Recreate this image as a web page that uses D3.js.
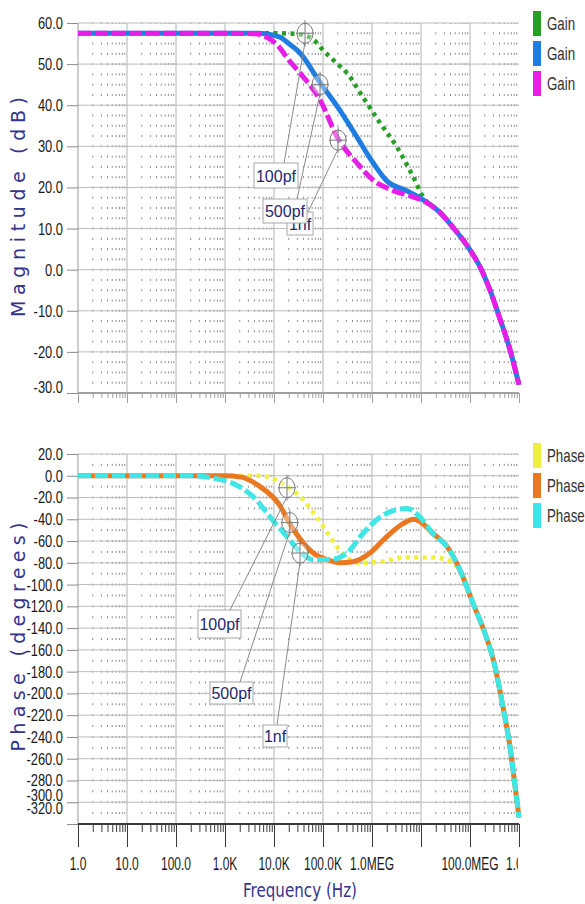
<!DOCTYPE html>
<meta charset="utf-8">
<script src="https://d3js.org/d3.v7.min.js"></script>
<style>
    body { margin: 0; background: #fff; }
</style>
<div id="vis"></div>
<script>
    // frequency decades + their labels (10MEG label is not shown in the original)
    var decades = [1, 10, 100, 1e3, 1e4, 1e5, 1e6, 1e7, 1e8, 1e9];
    var decadeLabels = ["1.0", "10.0", "100.0", "1.0K", "10.0K", "100.0K", "1.0MEG", "", "100.0MEG", "1.0G"];
    var gainTicks = [-30, -20, -10, 0, 10, 20, 30, 40, 50, 60];
    var phaseTicks = [-320, -300, -280, -260, -240, -220, -200, -180, -160, -140, -120, -100, -80, -60, -40, -20, 0, 20];
    var seriesNames = ["100pf", "500pf", "1nf"];

    // gain curves [Hz, dB]
    var gain100 = [[1, 57.5], [1e3, 57.5], [1e4, 57.5], [25e3, 57.4], [43e3, 57.0], [70e3, 55.5], [1e5, 53.4],
        [2e5, 50.0], [3.1e5, 47.8], [6.5e5, 42.0], [1.46e6, 35.7], [3.2e6, 29.9], [6.9e6, 22.6], [1.1e7, 17.7],
        [2.4e7, 14.0], [4.5e7, 10.3], [1e8, 4.8], [1.6e8, 0.7], [2.56e8, -5], [4.1e8, -12.0], [6.6e8, -19.6], [1e9, -28]];
    var gain500 = [[1, 57.5], [1e3, 57.5], [5e3, 57.5], [7.2e3, 57.3], [13e3, 56.6], [2e4, 55.0], [3.4e4, 52.7],
        [8.7e4, 45.5], [2.2e5, 38.8], [4.9e5, 32.3], [1.05e6, 26.0], [2e6, 21.6], [5.1e6, 19.2], [1.1e7, 17.0],
        [2.4e7, 14.0], [4.5e7, 10.3], [1e8, 4.8], [1.6e8, 0.7], [2.56e8, -5], [4.1e8, -12.0], [6.6e8, -19.6], [1e9, -28]];
    var gain1n = [[1, 57.5], [1e3, 57.5], [4e3, 57.4], [7e3, 56.6], [12e3, 54.5], [2e4, 51.0], [3.4e4, 47.8],
        [8.7e4, 41.3], [2e5, 32.0], [4.9e5, 26.0], [1.05e6, 21.8], [2.5e6, 19.4], [6.9e6, 17.7], [1.1e7, 16.8],
        [2.4e7, 14.0], [4.5e7, 10.3], [1e8, 4.8], [1.6e8, 0.7], [2.56e8, -5], [4.1e8, -12.0], [6.6e8, -19.6], [1e9, -28]];

    // phase curves [Hz, deg]
    var phase100 = [[1, 0], [1e3, 0], [5e3, 0], [1e4, -3], [1.84e4, -10], [3.4e4, -19], [7.5e4, -38], [1.39e5, -56],
        [2.45e5, -71], [5.7e5, -80], [1.46e6, -79], [5.2e6, -75], [1.5e7, -75], [3.4e7, -77], [5e7, -82], [6.3e7, -87],
        [1.15e8, -117], [2.22e8, -150], [2.95e8, -168], [4.7e8, -212], [6.6e8, -250], [8.3e8, -285], [1e9, -314]];
    var phase500 = [[1, 0], [1e3, 0], [2e3, -1], [5.2e3, -10], [1.3e4, -27], [2.1e4, -44], [3.4e4, -58], [6.3e4, -71],
        [1.2e5, -77], [2.2e5, -80], [4.1e5, -79], [9.1e5, -71], [2e6, -56], [4.3e6, -44], [7e6, -40], [9.5e6, -42],
        [1.75e7, -53], [3.4e7, -65], [6.3e7, -87],
        [1.15e8, -117], [2.22e8, -150], [2.95e8, -168], [4.7e8, -212], [6.6e8, -250], [8.3e8, -285], [1e9, -314]];
    var phase1n = [[1, 0], [200, 0], [700, -3], [1.45e3, -7], [3.7e3, -19], [9.5e3, -41], [2.1e4, -59], [3.4e4, -70],
        [6.3e4, -77], [1.39e5, -77], [3.09e5, -71], [6.55e5, -53], [1.46e6, -38], [2.7e6, -32], [5.2e6, -30],
        [9.5e6, -38], [1.75e7, -53], [3.4e7, -65], [6.3e7, -87],
        [1.15e8, -117], [2.22e8, -150], [2.95e8, -168], [4.7e8, -212], [6.6e8, -250], [8.3e8, -285], [1e9, -314]];

    // cursor markers [Hz, value]
    var gainMarks = [[4.3e4, 57.5], [8.7e4, 45.0], [2.03e5, 31.5]];
    var phaseMarks = [[1.84e4, -11], [2.1e4, -43], [3.4e4, -71]];

    var svg = d3.select("#vis").append("svg")
        .attr("width", 585)
        .attr("height", 904);

    var x = d3.scaleLog().domain([1, 1e9]).range([78, 519]);
    var yG = d3.scaleLinear().domain([-30, 60]).range([393, 23]);
    var yP = d3.scaleLinear().domain([-320, 20]).range([824, 454]);

    var minorX = [];
    decades.slice(0, -1).forEach(function (d) { for (var k = 2; k < 10; k++) minorX.push(d * k); });

    var numFont = "'Liberation Sans', Arial, sans-serif";

    // grid + axes for one panel
    function panel(y, ticks, minorStep, majLen, minLen, axisClr, nudge) {
        var yb = y.range()[0], yt = y.range()[1];
        var g = svg.append("g");
        var stepPx = Math.abs(y(0) - y(minorStep));

        // dotted minor grid
        g.selectAll(null).data(minorX).enter().append("line")
            .attr("x1", function (d) { return x(d); }).attr("x2", function (d) { return x(d); })
            .attr("y1", yt).attr("y2", yb)
            .attr("stroke", "#8c8c8c")
            .attr("stroke-dasharray", "2," + (stepPx - 2))
            .attr("stroke-dashoffset", 1);
        // major grid
        g.selectAll(null).data(ticks).enter().append("line")
            .attr("x1", 78).attr("x2", 519)
            .attr("y1", function (d) { return y(d); }).attr("y2", function (d) { return y(d); })
            .attr("stroke", "#bcbcbc");
        g.selectAll(null).data(decades.slice(1, -1)).enter().append("line")
            .attr("x1", function (d) { return x(d); }).attr("x2", function (d) { return x(d); })
            .attr("y1", yt).attr("y2", yb)
            .attr("stroke", "#b4b4b4");

        // y axis
        var ya = svg.append("g").attr("transform", "translate(78,0)")
            .call(d3.axisLeft(y).tickValues(ticks).tickSize(11)
                .tickFormat(function (d) { return d.toFixed(1); }));
        ya.select(".domain").remove();
        ya.attr("color", "#8a8a8a").attr("font-family", numFont).attr("font-size", 17);
        ya.selectAll("text")
            .attr("fill", "#1a1a1a")
            .attr("transform", "scale(0.76,1)")
            .attr("x", -15 / 0.76)
            .attr("y", function (d) { return nudge[d] || 0; });

        // x ticks
        var xm = svg.append("g").attr("transform", "translate(0," + yb + ")")
            .call(d3.axisBottom(x).tickValues(minorX).tickSize(minLen).tickFormat(""));
        xm.select(".domain").remove();
        xm.attr("color", axisClr);
        var xa = svg.append("g").attr("transform", "translate(0," + yb + ")")
            .call(d3.axisBottom(x).tickValues(decades).tickSize(majLen).tickFormat(""));
        xa.select(".domain").remove();
        xa.attr("color", axisClr);

        // axis lines
        svg.append("line").attr("x1", 78).attr("x2", 78).attr("y1", yt).attr("y2", yb)
            .attr("stroke", "#9a9a9a");
        svg.append("line").attr("x1", 78).attr("x2", 519).attr("y1", yb).attr("y2", yb)
            .attr("stroke", axisClr).attr("stroke-width", 2);
        return xa;
    }

    panel(yG, gainTicks, 2.5, 10, 5, "#a0a0a0", { "-30": -6 });
    panel(yP, phaseTicks, 10, 23, 8, "#3a3a3a", { "-300": -7, "-320": -16 });

    // frequency labels, the last one is cut at the plot edge
    svg.append("clipPath").attr("id", "cutR")
        .append("rect").attr("x", -100).attr("y", -50).attr("width", 618).attr("height", 150);
    var xl = svg.append("g").attr("transform", "translate(0,824)")
        .attr("clip-path", "url(#cutR)")
        .attr("font-family", numFont).attr("font-size", 19).attr("text-anchor", "middle");
    xl.selectAll(null).data(decades).enter().append("text")
        .attr("transform", function (d) { return "translate(" + x(d) + ",0) scale(0.63,1)"; })
        .attr("y", 46)
        .attr("fill", "#1a1a1a")
        .text(function (d, i) { return decadeLabels[i]; });

    // curves
    function curve(y) {
        return d3.line()
            .x(function (d) { return x(d[0]); })
            .y(function (d) { return y(d[1]); })
            .curve(d3.curveMonotoneX);
    }
    var gainSeries = [
        { data: gain100, clr: "#25a025", w: 4.5, dash: "4,4.5" },
        { data: gain500, clr: "#1f7de2", w: 5, dash: null },
        { data: gain1n, clr: "#e61ee6", w: 5, dash: "13,4" }
    ];
    var phaseSeries = [
        { data: phase100, clr: "#f0f03c", w: 4.5, dash: "4,4.5" },
        { data: phase500, clr: "#ea7820", w: 5, dash: null },
        { data: phase1n, clr: "#3ee6e6", w: 5, dash: "13,4" }
    ];
    function drawSeries(list, y) {
        list.forEach(function (s) {
            svg.append("path")
                .attr("d", curve(y)(s.data))
                .attr("fill", "none")
                .attr("stroke", s.clr)
                .attr("stroke-width", s.w)
                .attr("stroke-dasharray", s.dash);
        });
    }
    drawSeries(gainSeries, yG);
    drawSeries(phaseSeries, yP);

    // cursor labels with leader lines
    function tags(marks, y, boxes) {
        boxes.forEach(function (b, i) {
            var m = marks[i];
            svg.append("line")
                .attr("x1", b.lx).attr("y1", b.ly)
                .attr("x2", x(m[0])).attr("y2", y(m[1]) + 9)
                .attr("stroke", "#8a8a8a");
        });
        marks.forEach(function (m) {
            var g = svg.append("g").attr("transform", "translate(" + x(m[0]) + "," + y(m[1]) + ")");
            g.append("ellipse").attr("rx", 8).attr("ry", 10)
                .attr("fill", "#fff").attr("fill-opacity", 0.35).attr("stroke", "#7a7a7a");
            g.append("line").attr("x1", 0).attr("x2", 0).attr("y1", -13).attr("y2", 13).attr("stroke", "#7a7a7a");
            g.append("line").attr("x1", -9).attr("x2", 9).attr("y1", 0).attr("y2", 0).attr("stroke", "#7a7a7a");
        });
        [2, 0, 1].forEach(function (i) {
            var b = boxes[i];
            svg.append("rect").attr("x", b.x).attr("y", b.y).attr("width", b.w).attr("height", b.h)
                .attr("fill", "#fff").attr("stroke", "#a8a8a8");
            svg.append("text")
                .attr("x", b.x + b.w / 2).attr("y", b.y + b.h / 2 + 6)
                .attr("text-anchor", "middle")
                .attr("font-family", numFont).attr("font-size", 16)
                .attr("fill", "#1e2870")
                .text(seriesNames[i]);
        });
    }
    tags(gainMarks, yG, [
        { x: 254, y: 163, w: 44, h: 25, lx: 284, ly: 163 },
        { x: 263, y: 199, w: 44, h: 24, lx: 297, ly: 199 },
        { x: 287, y: 212, w: 26, h: 23, lx: 308, ly: 212 }
    ]);
    tags(phaseMarks, yP, [
        { x: 198, y: 610, w: 43, h: 28, lx: 230, ly: 610 },
        { x: 210, y: 682, w: 43, h: 22, lx: 240, ly: 682 },
        { x: 263, y: 725, w: 24, h: 22, lx: 277, ly: 725 }
    ]);

    // legends
    function legend(list, name, top) {
        list.forEach(function (s, i) {
            svg.append("rect")
                .attr("x", 533).attr("y", top + i * 30)
                .attr("width", 8).attr("height", 25)
                .attr("fill", s.clr);
            svg.append("text")
                .attr("transform", "translate(547," + (top + i * 30 + 19) + ") scale(0.7,1)")
                .attr("font-family", numFont).attr("font-size", 19)
                .attr("fill", "#333")
                .text(name);
        });
    }
    legend(gainSeries, "Gain", 11);
    legend(phaseSeries, "Phase", 443);

    // axis titles
    var titleFont = "'DejaVu Sans', Verdana, sans-serif";
    svg.append("text")
        .attr("transform", "translate(25,207) rotate(-90)")
        .attr("text-anchor", "middle")
        .attr("font-family", titleFont).attr("font-size", 19)
        .attr("fill", "#34348c")
        .attr("textLength", 220).attr("lengthAdjust", "spacing")
        .text("Magnitude (dB)");
    svg.append("text")
        .attr("transform", "translate(25,637) rotate(-90)")
        .attr("text-anchor", "middle")
        .attr("font-family", titleFont).attr("font-size", 19)
        .attr("fill", "#34348c")
        .attr("textLength", 229).attr("lengthAdjust", "spacing")
        .text("Phase (degrees)");
    svg.append("text")
        .attr("x", 300).attr("y", 897)
        .attr("text-anchor", "middle")
        .attr("font-family", titleFont).attr("font-size", 19)
        .attr("fill", "#34348c")
        .attr("textLength", 114).attr("lengthAdjust", "spacingAndGlyphs")
        .text("Frequency (Hz)");
</script>
